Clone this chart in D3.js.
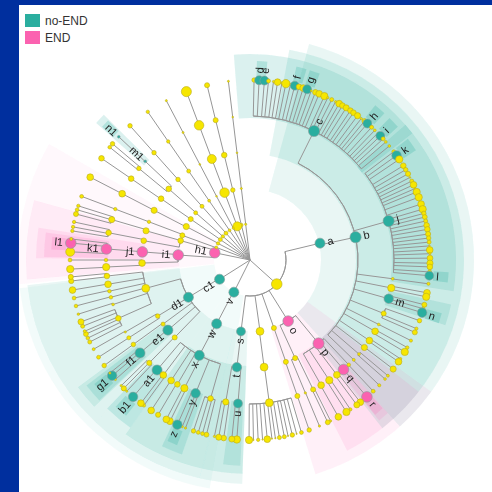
<!DOCTYPE html>
<html>
<head>
<meta charset="utf-8">
<script src="https://cdn.jsdelivr.net/npm/d3@7"></script>
<style>
    html, body { margin: 0; padding: 0; background: #002f9e; }
    svg { display: block; }
</style>
</head>
<body>
<div id="chart"></div>
<script>
// classes of the legend and the taxa that belong to them
const legendNames = ["no-END", "END"]
const noEndTaxa = ["a", "b", "c", "d", "e", "f", "g", "h", "i", "j", "k", "l", "m", "n", "s", "t", "u", "v", "w", "x", "y", "z", "a1", "b1", "c1", "d1", "e1", "f1", "g1", "m1", "n1"]
const endTaxa = ["o", "p", "q", "r", "h1", "i1", "j1", "k1", "l1"]

// tree rows: id, parent, angle in degrees, node size
const level1 = [
    ["A", "root", 132, 9.5], ["v", "root", -153.4, 9], ["c1", "root", -122.3, 9], ["h1", "root", -78.4, 9.5],
    ["F1", "root", -6.9, 2], ["F2", "root", -13.8, 3], ["F3", "root", -20.7, 8], ["F4", "root", -27.7, 2],
    ["F5", "root", -34.6, 2.5], ["F6", "root", -41.8, 3.5], ["F7", "root", -49, 3], ["F8", "root", -55.5, 3.5],
    ["F9", "root", -62.6, 3], ["F10", "root", -69.6, 2.5]
]
const level2 = [
    ["a", "A", 76.5, 9], ["o", "A", 148, 9.5], ["P2", "A", 160.6, 4.5], ["C2", "A", 172, 7], ["s", "A", 187.2, 8],
    ["w", "v", -152.4, 9], ["d1", "c1", -121.2, 9], ["Ha", "h1", -74.4, 5], ["i1", "h1", -86, 9.5],
    ["G1", "F1", -6.9, 1.8], ["G2", "F2", -13.8, 4], ["G3", "F3", -20.7, 8.5], ["G4", "F4", -27.7, 1.5],
    ["G5", "F5", -34.6, 2.5], ["G6", "F6", -41.8, 3.5], ["G7", "F7", -49, 3.5], ["G8", "F8", -55.4, 4.5],
    ["G9", "F9", -62.3, 5.5], ["G10", "F10", -70, 4.5]
]
const level3 = [
    ["b", "a", 77.8, 10], ["p", "o", 140.6, 10], ["Q3", "o", 155.3, 4.5], ["P3", "P2", 160.6, 4.5],
    ["C3", "C2", 172.5, 7], ["t", "s", 187, 8.5], ["x", "w", -152, 9],
    ["H1", "G1", -6.9, 1.5], ["H2", "G2", -13.8, 5], ["H3", "G3", -20.7, 8], ["H4", "G4", -27.7, 1.5],
    ["H5", "G5", -34.6, 3.5], ["H6", "G6", -41.8, 4], ["H7", "G7", -48.8, 5], ["H8", "G8", -55.4, 5],
    ["H9", "G9", -62.6, 5.5], ["H10", "G10", -69.3, 3], ["Ha1", "Ha", -74.3, 5.5], ["Ha2", "Ha", -79.7, 5],
    ["j1", "i1", -85.7, 9.5], ["J3", "i1", -91.6, 6],
    ["D1", "d1", -105.2, 7], ["D2", "d1", -121.3, 4], ["D3", "d1", -126.4, 3.6], ["e1", "d1", -130.5, 9], ["D5", "d1", -135.8, 4.5]
]
const level4 = [
    ["c", "b", 26.4, 10], ["j", "b", 74.3, 10], ["B1", "b", 97.5, 2.4], ["B2", "b", 101.2, 6.5], ["m", "b", 105.6, 8.5],
    ["B4", "b", 111.8, 4.5], ["B5", "b", 116.6, 2.4], ["B6", "b", 119.7, 6], ["B7", "b", 124, 6], ["B8", "b", 127.4, 5.5],
    ["B9", "b", 130.8, 2.6], ["B10", "b", 133.9, 2.6],
    ["q", "p", 139.5, 9.5], ["P1", "p", 136.7, 3.2], ["P6", "p", 142.9, 6], ["P7", "p", 146.6, 6.5], ["P8", "p", 150.4, 6],
    ["Q4a", "Q3", 157.4, 2], ["Q4b", "Q3", 154, 4.5], ["P4", "P3", 160.8, 4.5], ["C4", "C3", 172.3, 7],
    ["u", "t", 184.8, 8], ["T4", "t", 189.7, 5.5],
    ["a1", "x", -139.8, 9], ["X1", "x", -143, 6], ["X2", "x", -146.8, 6], ["X3", "x", -149.7, 5], ["X4", "x", -152.9, 6.5],
    ["y", "x", -157.8, 8.5], ["X6", "x", -164.1, 5],
    ["I1", "H1", -6.9, 1.5], ["I2", "H2", -13.8, 4.5], ["I3", "H3", -20.7, 8.5], ["I4", "H4", -27.7, 1.8],
    ["I5", "H5", -34.6, 3], ["I6", "H6", -41.8, 4], ["m1", "H7", -46.7, 2.4], ["I7", "H7", -50.5, 4],
    ["I8", "H8", -55.6, 5], ["I9", "H9", -62.6, 6], ["I10", "H10", -69.3, 3],
    ["Ia1", "Ha1", -73.7, 5.5], ["Ia2", "Ha2", -79.1, 5],
    ["k1", "j1", -85.6, 9.5], ["J4a", "J3", -90, 3.2], ["J4b", "J3", -92.8, 6.5],
    ["D1a", "D1", -96.4, 5], ["D1b", "D1", -99.7, 6], ["D1c", "D1", -102.5, 3.2], ["D1d", "D1", -105, 3.2],
    ["D1e", "D1", -108, 2.4], ["D1f", "D1", -113.9, 5],
    ["D2a", "D2", -120, 2], ["D2b", "D2", -122.7, 3.6], ["D3a", "D3", -125.9, 4],
    ["f1", "e1", -130.2, 9], ["D5a", "D5", -135.6, 4.6]
]
// leaves: parent, angle, size, name if it has one
const leavesC = [
    ["c", 1.3, 4], ["c", 2.9, 8, "d"], ["c", 4.6, 8, "e"], ["c", 5.9, 3.6], ["c", 7.5, 2], ["c", 8.8, 6], ["c", 10.2, 2],
    ["c", 11.5, 7.5], ["c", 13, 2], ["c", 14.4, 8, "f"], ["c", 15.8, 5], ["c", 17.2, 6], ["c", 18.5, 8, "g"], ["c", 19.9, 1.6],
    ["c", 21.3, 5], ["c", 22.6, 6], ["c", 24.4, 6.5], ["c", 25.6, 2], ["c", 27, 3.6], ["c", 28.4, 2], ["c", 29.7, 6],
    ["c", 30.9, 5], ["c", 32.3, 5.5], ["c", 33.9, 5], ["c", 35.1, 5], ["c", 36.7, 5.5], ["c", 38.2, 2], ["c", 39.5, 4.5],
    ["c", 40.7, 8, "h"], ["c", 42.5, 3.6], ["c", 43.9, 2.4], ["c", 45.2, 1.5], ["c", 46.4, 8, "i"], ["c", 47.7, 3.6],
    ["c", 49, 2.4], ["c", 50.7, 2.4]
]
const leavesJ = [
    ["j", 53, 3.4], ["j", 54.5, 8.5, "k"], ["j", 56, 6.5], ["j", 58.4, 5], ["j", 59.9, 4], ["j", 61.4, 4.6], ["j", 62.7, 1.5],
    ["j", 64, 3.6], ["j", 65.3, 6], ["j", 66.6, 1.5], ["j", 67.8, 6.5], ["j", 69.6, 6.5], ["j", 71.9, 6], ["j", 73.6, 6.5],
    ["j", 75, 4], ["j", 76.2, 4.4], ["j", 77.5, 3.6], ["j", 78.9, 5], ["j", 80.2, 5], ["j", 81.7, 4.6], ["j", 83, 4],
    ["j", 84.3, 3.6], ["j", 85.5, 1.5], ["j", 86.8, 6], ["j", 88, 2], ["j", 89.4, 5.2], ["j", 91, 5.6], ["j", 92.2, 5],
    ["j", 93.8, 3.6], ["j", 95, 8, "l"]
]
const leavesB = [
    ["B1", 97.6, 2.8], ["B2", 100.5, 6], ["B2", 101.8, 6.5], ["m", 104.4, 4.5], ["m", 105.7, 3], ["m", 107, 8.5, "n"],
    ["B4", 109.7, 4], ["B4", 112.4, 2.8], ["B4", 113.7, 4.5], ["B5", 116.6, 2.8], ["B6", 119.1, 3], ["B6", 120.7, 6.5],
    ["B7", 123.3, 2.4], ["B7", 124.4, 6], ["B8", 127.3, 5.5], ["B9", 130, 2.6], ["B9", 131.4, 2.4], ["B10", 134.1, 2.8]
]
const leavesP = [
    ["P1", 136.8, 3.4], ["q", 139.5, 9.5, "r"], ["P6", 142.2, 6], ["P6", 143.6, 5.4], ["P7", 146.1, 2.8], ["P7", 147.6, 6.5],
    ["P8", 150.6, 6], ["Q4b", 153.4, 2], ["Q4b", 154.4, 4.4], ["Q4a", 157.3, 2], ["P4", 160.8, 4]
]
const leavesComb = [
    ["C4", 163.4, 3.4], ["C4", 165, 1.2], ["C4", 166.4, 4], ["C4", 167.8, 1.2], ["C4", 169, 3.6], ["C4", 170.6, 3.6],
    ["C4", 171.9, 1.2], ["C4", 173, 1.2], ["C4", 174.5, 6], ["C4", 176, 1.2], ["C4", 177.4, 3], ["C4", 178.9, 1.2], ["C4", 180.3, 6.5],
    ["u", 184.2, 6.6], ["u", 185.8, 5.4], ["T4", 188.4, 5], ["T4", 190, 5.4], ["T4", 191.4, 2]
]
const leavesX = [
    ["X6", -166, 4.4], ["X6", -164.7, 3.4], ["X6", -163.3, 3.4], ["X6", -161.7, 4],
    ["y", -159, 2], ["y", -157.9, 2], ["y", -156.2, 8.5, "z"], ["X4", -153.6, 6], ["X4", -152.3, 6], ["X3", -149.3, 4.6],
    ["X2", -146.7, 6], ["X1", -143.9, 3], ["X1", -142.7, 6], ["a1", -139.5, 8.5, "b1"]
]
const leavesD = [
    ["D5a", -136.8, 2], ["D5a", -135.5, 4.6], ["D5a", -134.3, 2],
    ["f1", -131.6, 2], ["f1", -130, 8.5, "g1"], ["f1", -128.9, 2], ["D3a", -125.9, 4], ["D2b", -122.7, 3.4], ["D2a", -119.7, 2.6],
    ["D1f", -117.1, 3.6], ["D1f", -115.7, 3.2], ["D1f", -114.3, 4.4], ["D1f", -113.3, 2.6], ["D1f", -111.6, 3.6], ["D1f", -110.1, 5.4],
    ["D1e", -107.5, 2.2], ["D1d", -104.8, 3.2], ["D1c", -102.2, 3.4], ["D1b", -99.6, 6], ["D1a", -96.7, 4.6], ["D1a", -95.4, 4.6]
]
const leavesEnd = [
    ["J4b", -92.9, 6.6], ["J4a", -90, 3.4], ["k1", -87.4, 8], ["k1", -84.6, 9.5, "l1"], ["k1", -83.3, 2.6]
]
const leavesFan = [
    ["Ia2", -80.7, 3], ["Ia2", -79.4, 3], ["Ia2", -77.8, 3], ["Ia1", -75.2, 4.5], ["Ia1", -73.8, 3.4], ["Ia1", -72.5, 3],
    ["I10", -69.3, 3.4], ["I9", -62.6, 6], ["I8", -55.6, 5], ["I7", -51.2, 3.2], ["I7", -49.8, 4],
    ["m1", -46.8, 2.4, "n1"], ["I6", -41.8, 4], ["I5", -34.6, 3], ["I4", -27.7, 1.8], ["I3", -20.7, 9],
    ["I2", -13.8, 4.5], ["I1", -6.9, 1.8]
]

// background sectors: taxon, start angle, end angle
const sectorRows = [
    ["c1", -144.5, -97], ["v", -170, -144.5], ["h1", -96, -60],
    ["a", 15.3, 138], ["o", 126, 163], ["d1", -136.5, -96.5], ["w", -167, -136.5], ["s", -178, -167], ["i1", -95, -74.5],
    ["b", 10.6, 141.8], ["p", 128, 153], ["e1", -133.3, -126.5], ["x", -167.3, -144.5], ["t", -178, -167.3], ["j1", -89.5, -81.3],
    ["c", -4.5, 52], ["j", 49, 98.7], ["m", 102.5, 108.5], ["q", 138, 141.2], ["f1", -133, -127.5], ["a1", -144.5, -136.1],
    ["y", -160.7, -154.7], ["u", -177.3, -172.5], ["k1", -89.2, -82.3], ["m1", -48.3, -45.2],
    ["d", 2, 5], ["f", 13.5, 16.5], ["g", 17.5, 20.5], ["h", 39, 42.5], ["i", 44.5, 48], ["k", 52.5, 56.5], ["l", 93.5, 96.5],
    ["n", 105.5, 108.5], ["r", 138.2, 141], ["g1", -132, -128.5], ["b1", -141.5, -137.5], ["z", -158.5, -155.5],
    ["l1", -87, -83.3], ["n1", -48, -45.5]
]

let width = 492, height = 492
let cx = 250, cy = 260
let colorNoEnd = "#2aae9f", colorEnd = "#fb62b0"

let svg = d3.select("#chart")
    .append("svg")
    .attr("width", width)
    .attr("height", height)

//the reference is a soft scan, so everything gets a very slight blur
svg.append("filter")
    .attr("id", "soft")
    .append("feGaussianBlur")
    .attr("stdDeviation", 0.45)

//blue frame and white panel
svg.append("rect").attr("width", width).attr("height", height).attr("fill", "#002f9e")
svg.append("rect").attr("x", 19).attr("y", 5).attr("width", width - 19).attr("height", height - 5).attr("fill", "#fff")

//build the tree
let rows = [["root", null, 0, 0]].concat(level1, level2, level3, level4)
let leaves = [].concat(leavesC, leavesJ, leavesB, leavesP, leavesComb, leavesX, leavesD, leavesEnd, leavesFan)
leaves.forEach((d, i) => rows.push([d[3] || `leaf${i}`, d[0], d[1], d[2]]))
let root = d3.stratify().id((d) => d[0]).parentId((d) => d[1])(rows)

//scales
let angleScale = d3.scaleLinear().domain([0, 360]).range([0, Math.PI * 2])
let radiusScale = d3.scaleLinear().domain([0, 5]).range([0, 180])
let sizeScale = d3.scaleLinear().domain([0, 10]).range([0, 5.6])
let classColor = d3.scaleOrdinal().domain(legendNames).range([colorNoEnd, colorEnd])

let taxonClass = (id) => noEndTaxa.includes(id) ? "no-END" : endTaxa.includes(id) ? "END" : null
let point = (angle, r) => d3.pointRadial(angleScale(angle), r)

let chart = svg.append("g")
    .attr("transform", `translate(${cx},${cy})`)
    .attr("filter", "url(#soft)")

//sector extent for each tree level
let sectorInner = [0, 36, 71, 106, 142, 184]
let sectorOuter = [0, 232, 224, 214, 206, 199]
let sectorAlpha = [0, 0.05, 0.11, 0.14, 0.17, 0.24]
let depthOf = new Map(root.descendants().map((d) => [d.id, d.depth]))

let sectorArc = d3.arc()
    .innerRadius((d) => sectorInner[depthOf.get(d[0])])
    .outerRadius((d) => sectorOuter[depthOf.get(d[0])])
    .startAngle((d) => angleScale(d[1]))
    .endAngle((d) => angleScale(d[2]))

chart.append("g")
    .selectAll("path")
    .data(sectorRows)
    .enter()
    .append("path")
    .attr("d", sectorArc)
    .attr("fill", (d) => classColor(taxonClass(d[0])))
    .attr("fill-opacity", (d) => sectorAlpha[depthOf.get(d[0])] * (taxonClass(d[0]) == "END" ? 0.85 : 1))

//arc joining the children of each node
let links = chart.append("g")
    .attr("fill", "none")
    .attr("stroke", "#969696")
    .attr("stroke-width", 1)

let joinArc = d3.arc()
    .innerRadius((d) => radiusScale(d.depth))
    .outerRadius((d) => radiusScale(d.depth))
    .startAngle((d) => angleScale(d3.min(d.children, (c) => c.data[2])))
    .endAngle((d) => angleScale(d3.max(d.children, (c) => c.data[2])))

links.selectAll(".join")
    .data(root.descendants().filter((d) => d.children && d.children.length > 1 && d.depth > 0))
    .enter()
    .append("path")
    .attr("class", "join")
    .attr("d", joinArc)

//radial line from the parent ring to the node
links.selectAll(".spoke")
    .data(root.links())
    .enter()
    .append("path")
    .attr("class", "spoke")
    .attr("d", (d) => {
        let a = point(d.target.data[2], radiusScale(d.source.depth))
        let b = point(d.target.data[2], radiusScale(d.target.depth))
        return d3.line()([a, b])
    })

//nodes
let nodes = root.descendants().filter((d) => d.depth > 0)
chart.append("g")
    .selectAll("circle")
    .data(nodes)
    .enter()
    .append("circle")
    .attr("cx", (d) => point(d.data[2], radiusScale(d.depth))[0])
    .attr("cy", (d) => point(d.data[2], radiusScale(d.depth))[1])
    .attr("r", (d) => sizeScale(d.data[3]))
    .attr("fill", (d) => taxonClass(d.id) ? classColor(taxonClass(d.id)) : "#f6e600")
    .attr("stroke", (d) => taxonClass(d.id) ? "#8aa09c" : "#b8ab22")
    .attr("stroke-width", 0.6)

//labels follow the radius
chart.append("g")
    .selectAll("text")
    .data(nodes.filter((d) => taxonClass(d.id)))
    .enter()
    .append("text")
    .text((d) => d.id)
    .attr("font-family", "'Liberation Sans', Arial, sans-serif")
    .attr("font-size", 11)
    .attr("fill", "#222")
    .attr("dy", "0.35em")
    .attr("text-anchor", (d) => d.data[2] < 0 || d.data[2] > 180 ? "end" : "start")
    .attr("transform", (d) => {
        let p = point(d.data[2], radiusScale(d.depth) + sizeScale(d.data[3]) + 2.5)
        let left = d.data[2] < 0 || d.data[2] > 180
        let rotate = left ? d.data[2] + 90 : d.data[2] - 90
        return `translate(${p[0]},${p[1]}) rotate(${rotate})`
    })

//legend
let legend = svg.append("g")
    .selectAll("g")
    .data(legendNames)
    .enter()
    .append("g")
    .attr("transform", (d, i) => `translate(25,${14 + i * 17})`)
legend.append("rect")
    .attr("width", 15)
    .attr("height", 13)
    .attr("fill", (d) => classColor(d))
legend.append("text")
    .attr("x", 20)
    .attr("y", 11)
    .attr("font-family", "'Liberation Sans', Arial, sans-serif")
    .attr("font-size", 12)
    .attr("fill", "#333")
    .text((d) => d)
</script>
</body>
</html>
